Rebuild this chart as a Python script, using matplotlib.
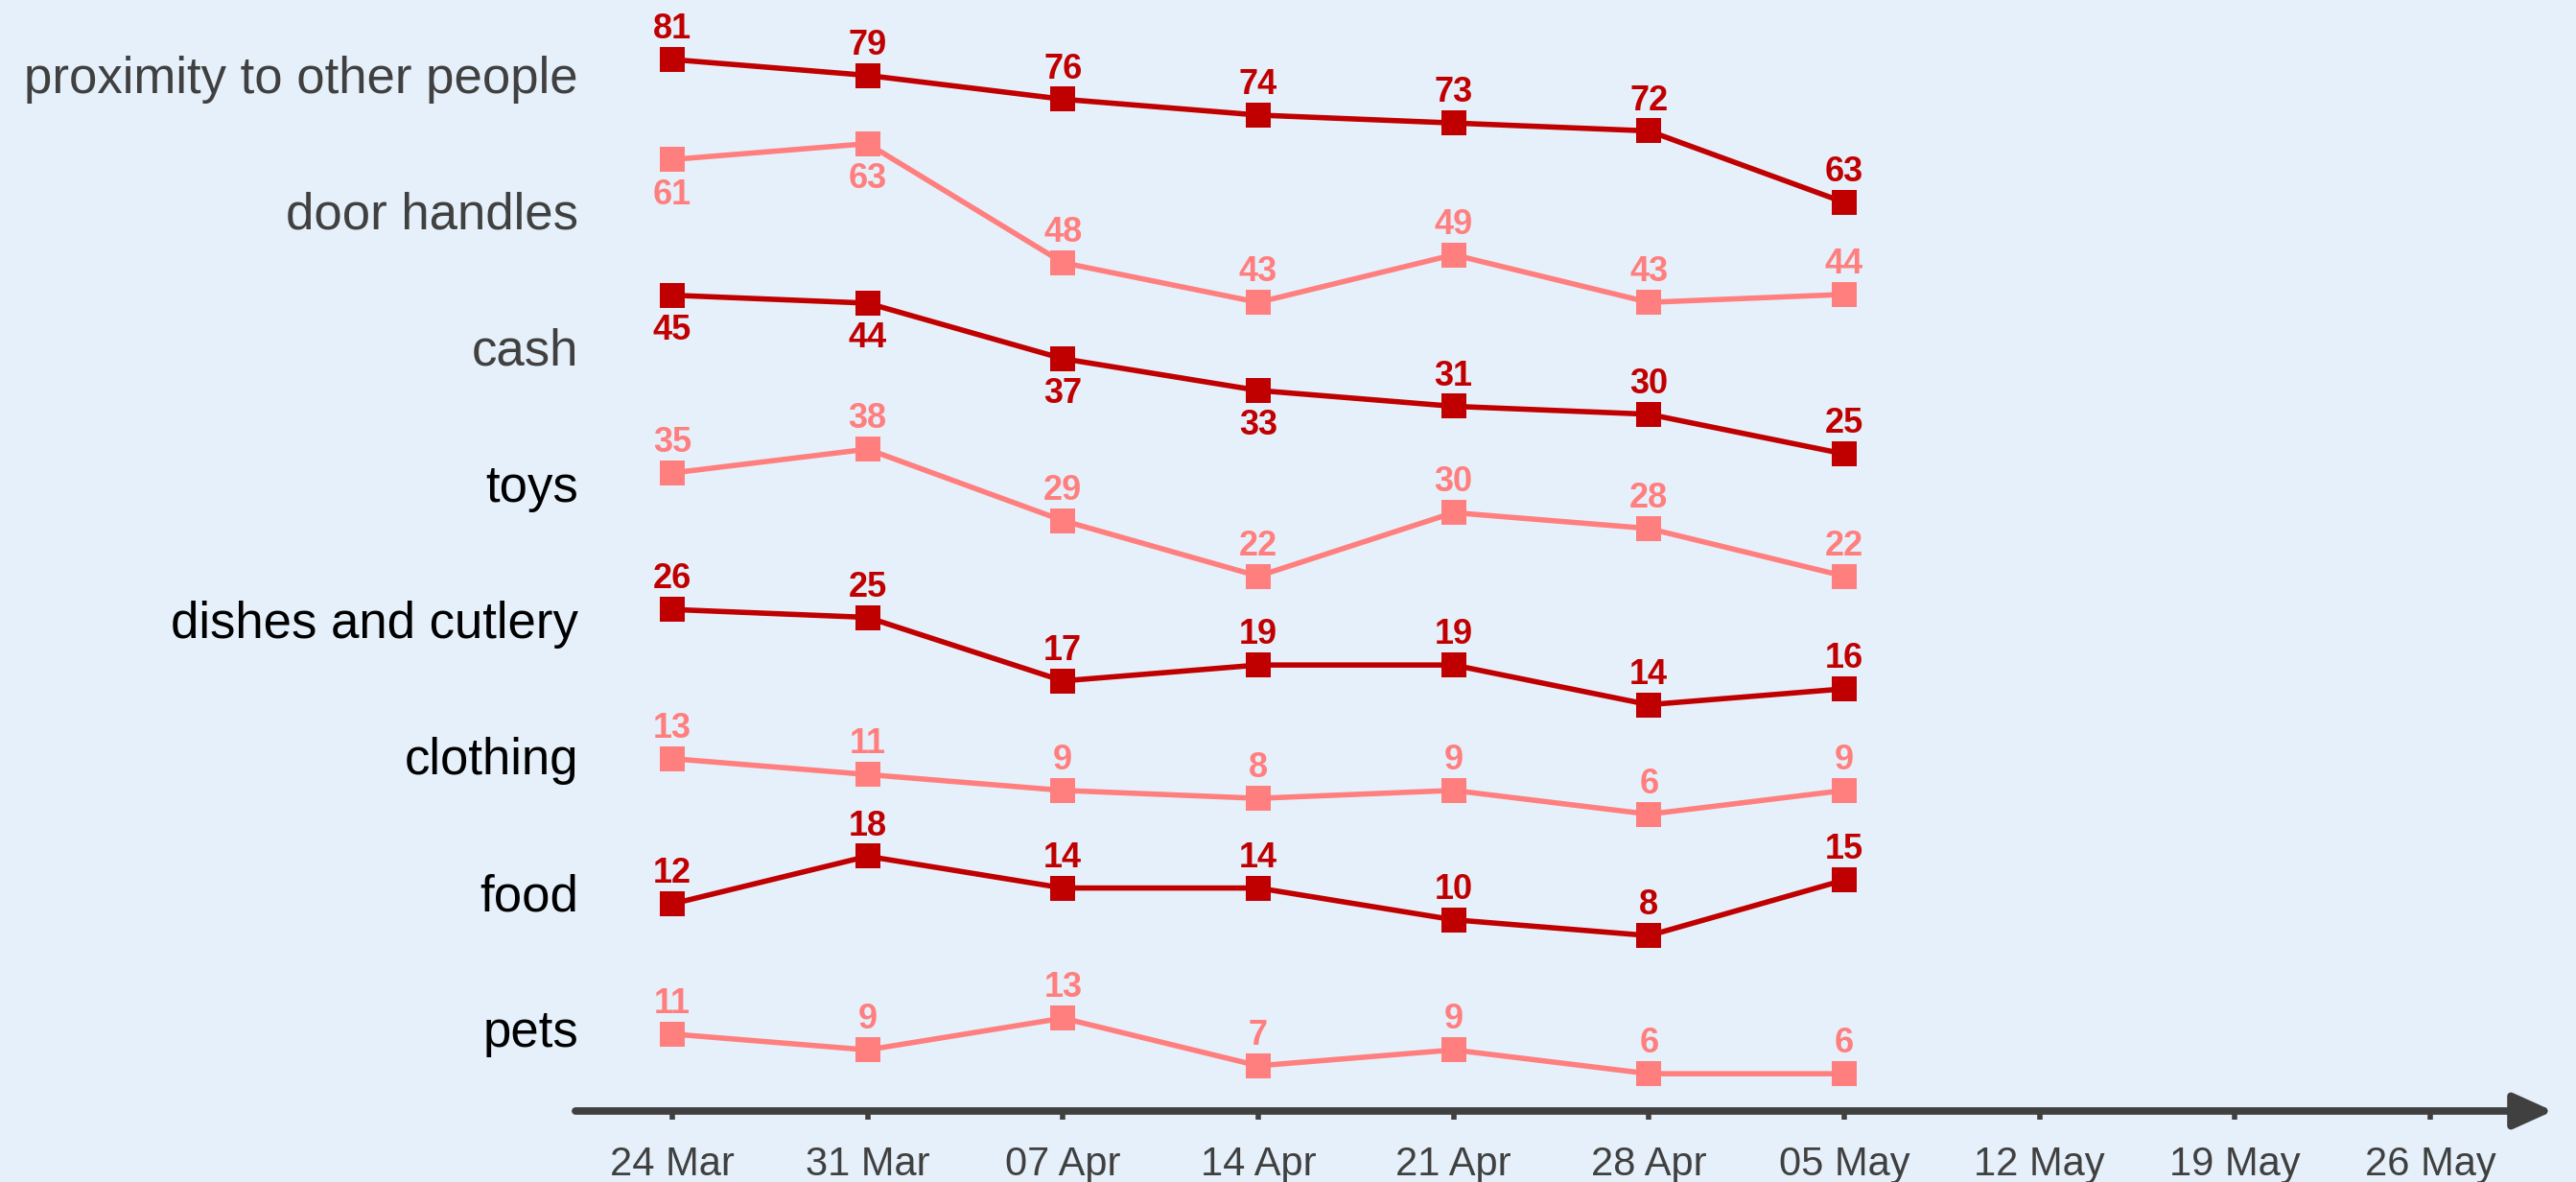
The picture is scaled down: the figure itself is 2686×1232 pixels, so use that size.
import numpy as np
import pandas as pd
import matplotlib
matplotlib.use("Agg")
import matplotlib.pyplot as plt
import matplotlib.dates as mdates
import matplotlib.transforms as mtransforms

# ---- data ----
dates = pd.to_datetime(["2020-03-24", "2020-03-31", "2020-04-07", "2020-04-14",
                        "2020-04-21", "2020-04-28", "2020-05-05"])
tick_dates = pd.date_range("2020-03-24", periods=10, freq="7D")

categories = ["proximity to other people", "door handles", "cash", "toys",
              "dishes and cutlery", "clothing", "food", "pets"]

proximity = [81, 79, 76, 74, 73, 72, 63]
door_handles = [61, 63, 48, 43, 49, 43, 44]
cash = [45, 44, 37, 33, 31, 30, 25]
toys = [35, 38, 29, 22, 30, 28, 22]
dishes = [26, 25, 17, 19, 19, 14, 16]
clothing = [13, 11, 9, 8, 9, 6, 9]
food = [12, 18, 14, 14, 10, 8, 15]
pets = [11, 9, 13, 7, 9, 6, 6]

series = [proximity, door_handles, cash, toys, dishes, clothing, food, pets]

# ---- layout / style ----
offsets = [51.5, 58.9, 57.8, 45.4, 37.2, 31.4, 14.1, -1.3]   # vertical shift of each line
label_top, label_step = 130.0, 17.18
below = {(1, 0), (1, 1), (2, 0), (2, 1), (2, 2), (2, 3)}     # value labels drawn under the marker
label_colors = ["#404040"] * 3 + ["black"] * 5

DARK = "#c00000"
LIGHT = "#ff7f7f"
BG = "#e6f0fa"
AXC = "#404040"

W, H, DPI = 2686, 1232, 200
fig = plt.figure(figsize=(W / DPI, H / DPI), dpi=DPI, facecolor=BG)
plt.rcParams['font.family'] = ['Liberation Sans', 'DejaVu Sans']

left, right, bottom = 600, 2662, 74
ax = fig.add_axes([left / W, bottom / H, (right - left) / W, (H - bottom) / H])
ax.set_facecolor(BG)

d0 = dates[0]
ax.set_xlim(d0 - pd.Timedelta(days=3.47), d0 + pd.Timedelta(days=67.4))
ax.set_ylim(0, 140)

for i, vals in enumerate(series):
    col = DARK if i % 2 == 0 else LIGHT
    y = np.array(vals) + offsets[i]
    ax.plot(dates, y, color=col, lw=2.0, marker="s", markersize=9.3,
            markeredgewidth=0, zorder=3, clip_on=False)
    for j, v in enumerate(vals):
        if (i, j) in below:
            ax.annotate(str(v), (dates[j], y[j]), xytext=(0, -7), textcoords="offset points",
                        ha="center", va="top", color=col, fontsize=13, fontweight="bold")
        else:
            ax.annotate(str(v), (dates[j], y[j]), xytext=(0, 5), textcoords="offset points",
                        ha="center", va="bottom", color=col, fontsize=13, fontweight="bold")

# category labels on the left
trans = mtransforms.blended_transform_factory(ax.transAxes, ax.transData)
for i, name in enumerate(categories):
    ax.text(0.0015, label_top - i * label_step, name, transform=trans, ha="right",
            va="center", fontsize=19, color=label_colors[i], clip_on=False)

# x axis with arrow
for s in ax.spines.values():
    s.set_visible(False)
ax.annotate("", xy=(1, 0), xytext=(0, 0), xycoords="axes fraction",
            arrowprops=dict(arrowstyle="-|>,head_length=0.62,head_width=0.28",
                            mutation_scale=20, lw=2.8, color=AXC,
                            shrinkA=0, shrinkB=0))
ax.set_xticks(tick_dates)
ax.xaxis.set_major_formatter(mdates.DateFormatter("%d %b"))
ax.tick_params(axis="x", direction="out", length=3.4, width=2, color=AXC,
               labelcolor=AXC, labelsize=15, pad=9.5)
ax.set_yticks([])

fig.savefig("out.png", dpi=DPI, facecolor=BG)
